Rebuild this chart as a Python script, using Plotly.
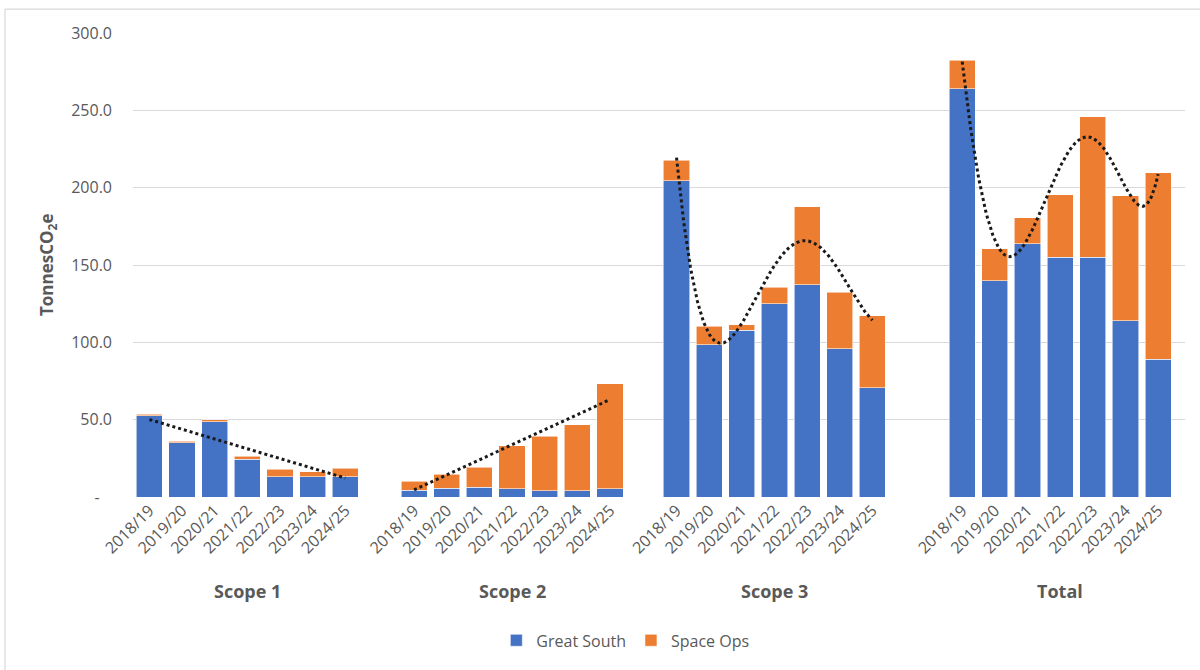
import numpy as np
import plotly.graph_objects as go

# ---- data -----------------------------------------------------------------
years = ["2018/19", "2019/20", "2020/21", "2021/22", "2022/23", "2023/24", "2024/25"]
groups = ["Scope 1", "Scope 2", "Scope 3", "Total"]

scope1_great_south = [52.6, 35.0, 48.8, 24.5, 13.0, 13.0, 13.0]
scope1_space_ops = [1.0, 1.0, 1.0, 1.7, 5.0, 3.2, 5.5]

scope2_great_south = [4.5, 5.8, 6.4, 5.2, 4.0, 4.0, 5.2]
scope2_space_ops = [5.7, 9.0, 12.9, 27.8, 35.3, 42.6, 68.0]

scope3_great_south = [204.5, 98.3, 107.7, 124.9, 137.2, 95.7, 70.6]
scope3_space_ops = [13.3, 12.0, 3.7, 10.8, 50.4, 36.7, 46.6]

total_great_south = [263.8, 139.8, 163.7, 155.1, 155.1, 113.8, 89.2]
total_space_ops = [18.6, 20.8, 16.7, 40.3, 90.6, 81.1, 120.5]

y_ticks = [0, 50, 100, 150, 200, 250, 300]
y_tick_labels = ["-\u00a0\u00a0\u00a0", "50.0", "100.0", "150.0", "200.0", "250.0", "300.0"]

# ---- layout helpers ---------------------------------------------------------
great_south = [scope1_great_south, scope2_great_south, scope3_great_south, total_great_south]
space_ops = [scope1_space_ops, scope2_space_ops, scope3_space_ops, total_space_ops]
trend_degree = [1, 1, 4, 5]          # linear for scopes 1-2, polynomial for scope 3 and total
group_offset = [0.0, 8.107, 16.146, 24.896]   # start of each cluster along the axis

BLUE = "#4472C4"
ORANGE = "#ED7D31"
GREY = "#595959"
FONT = "Open Sans"

xs, gs_all, so_all, tick_text = [], [], [], []
for g, off in enumerate(group_offset):
    for i, yr in enumerate(years):
        xs.append(off + i)
        tick_text.append(yr)
    gs_all += great_south[g]
    so_all += space_ops[g]

fig = go.Figure()
fig.add_trace(go.Bar(
    x=xs, y=gs_all, name="Great South", marker_color=BLUE,
    marker_line=dict(color="rgba(255,255,255,0.7)", width=0.8), width=0.8,
))
fig.add_trace(go.Bar(
    x=xs, y=so_all, name="Space Ops", marker_color=ORANGE,
    marker_line=dict(color="rgba(255,255,255,0.7)", width=0.8), width=0.8,
))

# trendlines fitted to the stacked totals of each cluster
for g, off in enumerate(group_offset):
    totals = np.array(great_south[g]) + np.array(space_ops[g])
    idx = np.arange(len(years))
    coef = np.polyfit(idx, totals, trend_degree[g])
    t = np.linspace(0, len(years) - 1, 200)
    fig.add_trace(go.Scatter(
        x=off + t, y=np.polyval(coef, t), mode="lines",
        line=dict(color="#1a1a1a", width=3, dash="dot"),
        showlegend=False, hoverinfo="skip",
    ))

# cluster captions under the year labels
for g, name in enumerate(groups):
    fig.add_annotation(
        x=group_offset[g] + 3, xref="x", y=0, yref="paper", yshift=-94,
        text=f"<b>{name}</b>", showarrow=False, yanchor="middle",
        font=dict(family=FONT, size=18, color=GREY),
    )

# value-axis title
fig.add_annotation(
    x=0, xref="paper", xshift=-86, y=0.5, yref="paper",
    text="<b>TonnesCO<sub>2</sub>e</b>", textangle=-90, showarrow=False,
    xanchor="center", yanchor="middle",
    font=dict(family=FONT, size=17, color=GREY),
)

# chart frame
fig.add_shape(type="line", xref="paper", yref="paper", x0=-128 / 1052, x1=1.2,
              y0=1 + 24 / 466, y1=1 + 24 / 466, line=dict(color="#D9D9D9", width=1.2))
fig.add_shape(type="line", xref="paper", yref="paper", x0=-128 / 1052, x1=-128 / 1052,
              y0=1 + 24 / 466, y1=-0.5, line=dict(color="#D9D9D9", width=1.2))

fig.update_layout(
    width=1200, height=670,
    margin=dict(l=133, r=15, t=33, b=171),
    barmode="stack",
    plot_bgcolor="white", paper_bgcolor="white",
    font=dict(family=FONT, color=GREY),
    showlegend=True,
    legend=dict(
        orientation="h", traceorder="normal",
        x=0.468, xanchor="center", y=-0.309, yanchor="middle",
        font=dict(family=FONT, size=16, color=GREY),
    ),
    xaxis=dict(
        range=[-0.502, 31.72], tickmode="array", tickvals=xs, ticktext=tick_text,
        tickangle=-45, showgrid=False, zeroline=False, showline=False,
        tickfont=dict(family=FONT, size=16, color=GREY), ticks="",
    ),
    yaxis=dict(
        range=[0, 300], tickmode="array", tickvals=y_ticks, ticktext=y_tick_labels,
        showgrid=True, gridcolor="#D9D9D9", gridwidth=1, zeroline=False,
        tickfont=dict(family=FONT, size=16, color=GREY), ticklabelstandoff=20,
    ),
)

fig.write_html("out.html")
